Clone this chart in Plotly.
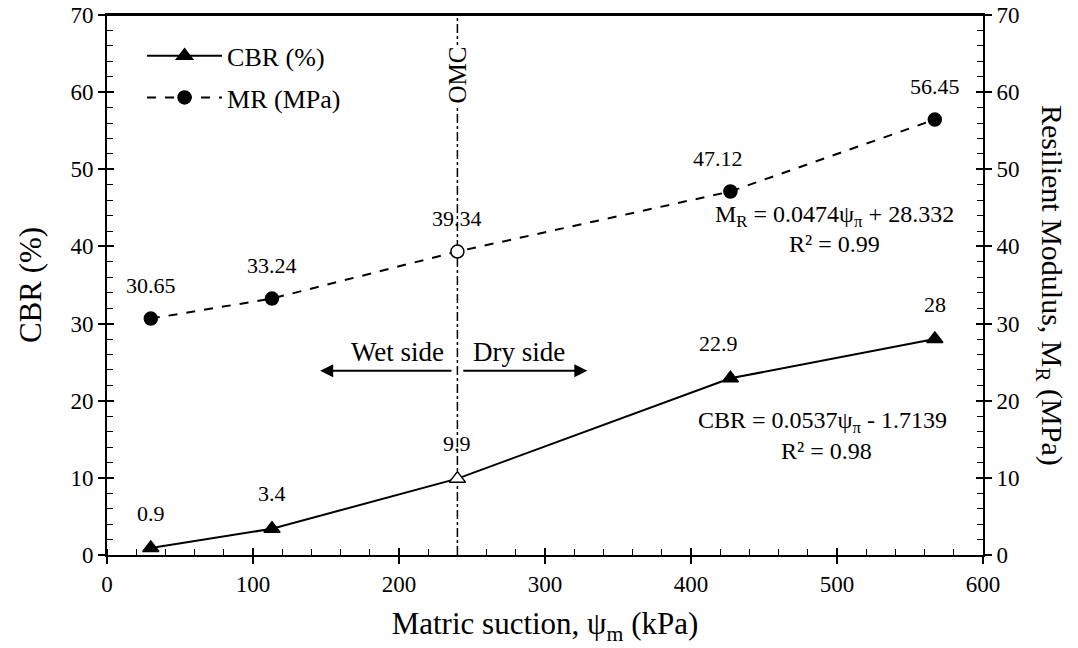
import plotly.graph_objects as go

# ---- data ----
suction = [30, 113, 240, 427, 567]
cbr = [0.9, 3.4, 9.9, 22.9, 28]
mr = [30.65, 33.24, 39.34, 47.12, 56.45]
cbr_labels = ["0.9", "3.4", "9.9", "22.9", "28"]
mr_labels = ["30.65", "33.24", "39.34", "47.12", "56.45"]
label_xshift = [0, 0, 0, -12, 0]
omc_x = 240
arrow_y = 23.9
wet_arrow = (237, 146)
dry_arrow = (243, 329)

FONT = "Liberation Serif, Times New Roman, serif"
fills = ["black" if x != omc_x else "white" for x in suction]

fig = go.Figure()
fig.add_trace(go.Scatter(
    x=suction, y=cbr, mode="lines+markers", name="CBR (%)", legendgroup="a",
    line=dict(color="black", width=2),
    marker=dict(symbol="triangle-up", size=14, color=fills, line=dict(color="black", width=1.5)),
    xaxis="x", yaxis="y"))
fig.add_trace(go.Scatter(
    x=suction, y=mr, mode="lines+markers", name="MR (MPa)", legendgroup="b",
    line=dict(color="black", width=2, dash="dash"),
    marker=dict(symbol="circle", size=13, color=fills, line=dict(color="black", width=1.5)),
    xaxis="x", yaxis="y2"))

lab_font = dict(size=22, family=FONT, color="black")
ann = []
for x, y, t, xs in zip(suction, cbr, cbr_labels, label_xshift):
    ann.append(dict(x=x, y=y, xref="x", yref="y", text=t, showarrow=False,
                    yshift=35, xshift=xs, font=lab_font))
for x, y, t, xs in zip(suction, mr, mr_labels, label_xshift):
    ann.append(dict(x=x, y=y, xref="x", yref="y2", text=t, showarrow=False,
                    yshift=33, xshift=xs, font=lab_font))

eq_font = dict(size=24, family=FONT, color="black")
ann += [
    dict(x=498, y=43.9, xref="x", yref="y", text="M<sub>R</sub> = 0.0474ψ<sub>π</sub> + 28.332",
         showarrow=False, font=eq_font),
    dict(x=498, y=40.3, xref="x", yref="y", text="R² = 0.99", showarrow=False, font=eq_font),
    dict(x=490, y=17.2, xref="x", yref="y", text="CBR = 0.0537ψ<sub>π</sub> - 1.7139",
         showarrow=False, font=eq_font),
    dict(x=493, y=13.5, xref="x", yref="y", text="R² = 0.98", showarrow=False, font=eq_font),
]
side_font = dict(size=27, family=FONT, color="black")
ann += [
    dict(x=wet_arrow[1], y=arrow_y, ax=wet_arrow[0], ay=arrow_y, xref="x", yref="y",
         axref="x", ayref="y", text="", showarrow=True, arrowhead=2, arrowsize=1.3,
         arrowwidth=2, arrowcolor="black"),
    dict(x=dry_arrow[1], y=arrow_y, ax=dry_arrow[0], ay=arrow_y, xref="x", yref="y",
         axref="x", ayref="y", text="", showarrow=True, arrowhead=2, arrowsize=1.3,
         arrowwidth=2, arrowcolor="black"),
    dict(x=199, y=26.3, xref="x", yref="y", text="Wet side", showarrow=False, font=side_font),
    dict(x=282, y=26.3, xref="x", yref="y", text="Dry side", showarrow=False, font=side_font),
    dict(x=omc_x, y=62.2, xref="x", yref="y", text="OMC", textangle=-90, showarrow=False,
         bgcolor="white", font=dict(size=25, family=FONT, color="black")),
    dict(x=1.0, y=0.5, xref="paper", yref="paper", xanchor="center", yanchor="middle", xshift=67,
         text="Resilient Modulus, M<sub>R</sub> (MPa)",
         textangle=90, showarrow=False, font=dict(size=30, family=FONT, color="black")),
]

tickfont = dict(size=23, family=FONT, color="black")
title_font = dict(size=31, family=FONT, color="black")
common_minor = dict(ticklen=6, tickwidth=1.2, tickcolor="black", showgrid=False)
fig.update_layout(
    width=1078, height=648,
    margin=dict(l=99, r=103, t=7, b=101),
    paper_bgcolor="white", plot_bgcolor="white",
    font=dict(family=FONT, color="black"),
    showlegend=True,
    legend=dict(x=0.04, y=0.968, xanchor="left", yanchor="top", bgcolor="rgba(0,0,0,0)",
                font=dict(size=26, family=FONT, color="black"), itemwidth=75,
                tracegroupgap=5),
    xaxis=dict(range=[0, 600], dtick=100, showgrid=False, zeroline=False, automargin=False,
               showline=True, linecolor="black", linewidth=2, mirror=True,
               ticks="outside", ticklen=7, tickwidth=1.5, tickcolor="black",
               ticklabeloverflow="allow",
               minor=dict(ticks="inside", dtick=20, **common_minor),
               tickfont=tickfont,
               title=dict(text="Matric suction, ψ<sub>m</sub> (kPa)", font=title_font, standoff=17)),
    xaxis3=dict(range=[0, 600], dtick=100, overlaying="x", anchor="y", side="bottom",
                automargin=False, showgrid=False, zeroline=False, showline=False,
                showticklabels=False, ticks="inside", ticklen=7, tickwidth=1.5, tickcolor="black"),
    yaxis=dict(range=[0, 70], dtick=10, showgrid=False, zeroline=False, automargin=False,
               showline=True, linecolor="black", linewidth=2,
               ticks="outside", ticklen=7, tickwidth=1.5, tickcolor="black",
               ticklabeloverflow="allow",
               minor=dict(ticks="inside", dtick=2, **common_minor),
               tickfont=tickfont,
               title=dict(text="CBR (%)", font=title_font, standoff=20)),
    yaxis3=dict(range=[0, 70], dtick=10, overlaying="y", anchor="x", side="left",
                automargin=False, showgrid=False, zeroline=False, showline=False,
                showticklabels=False, ticks="inside", ticklen=7, tickwidth=1.5, tickcolor="black"),
    yaxis2=dict(range=[0, 70], dtick=10, overlaying="y", side="right", anchor="x",
                automargin=False, showgrid=False, zeroline=False,
                showline=True, linecolor="black", linewidth=2,
                ticks="outside", ticklen=7, tickwidth=1.5, tickcolor="black",
                ticklabeloverflow="allow",
                minor=dict(ticks="inside", dtick=2, **common_minor),
                tickfont=tickfont),
    yaxis4=dict(range=[0, 70], dtick=10, overlaying="y", anchor="x", side="right",
                automargin=False, showgrid=False, zeroline=False, showline=False,
                showticklabels=False, ticks="inside", ticklen=7, tickwidth=1.5, tickcolor="black"),
    annotations=ann,
    shapes=[
        dict(type="line", xref="x", yref="y", x0=omc_x, x1=omc_x, y0=0, y1=70,
             line=dict(color="black", width=1.5, dash="dashdot"), layer="below"),
        dict(type="line", xref="paper", yref="paper", x0=0, x1=1, y0=1, y1=1,
             line=dict(color="black", width=2), layer="above"),
    ],
)

# invisible traces so the overlay tick axes render
fig.add_trace(go.Scatter(x=[None], y=[None], xaxis="x3", yaxis="y3", showlegend=False, hoverinfo="skip"))
fig.add_trace(go.Scatter(x=[None], y=[None], xaxis="x", yaxis="y4", showlegend=False, hoverinfo="skip"))

fig.write_html("out.html")
